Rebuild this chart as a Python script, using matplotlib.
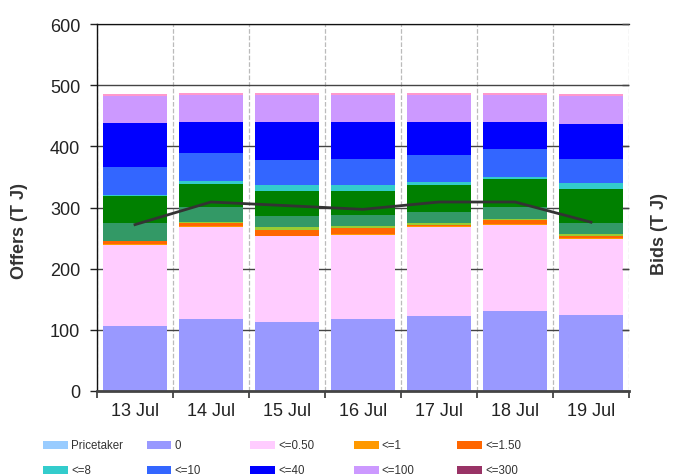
import matplotlib
matplotlib.use('Agg')
import matplotlib.pyplot as plt
import numpy as np
from matplotlib.patches import Rectangle

plt.rcParams['font.family'] = ['Liberation Sans', 'DejaVu Sans']

dates = ['13 Jul', '14 Jul', '15 Jul', '16 Jul', '17 Jul', '18 Jul', '19 Jul']

# Offer bands (TJ), stacked bottom to top
pricetaker = [0, 0, 0, 0, 0, 0, 0]
band_0 = [106, 118, 112, 118, 122, 130, 124]
band_050 = [133, 150, 141, 137, 146, 142, 125]
band_1 = [1, 1, 1, 1, 1, 1, 1]
band_150 = [6, 5, 10, 11, 3, 6, 3]
band_2 = [0, 3, 4, 2, 2, 2, 3]
band_3 = [28, 24, 18, 19, 18, 20, 18]
band_5 = [45, 37, 41, 39, 44, 45, 56]
band_8 = [2, 5, 9, 9, 5, 4, 10]
band_10 = [45, 46, 41, 44, 45, 45, 40]
band_40 = [72, 50, 62, 59, 53, 44, 56]
band_100 = [45, 45, 45, 45, 45, 45, 46]
band_300 = [0, 0, 0, 0, 0, 0, 0]
band_top = [2, 3, 3, 3, 3, 3, 3]

# Bids (TJ)
bids = [272, 309, 303, 297, 309, 309, 276]

series = [
    ('Pricetaker', pricetaker, '#99ccff', True),
    ('0', band_0, '#9999ff', True),
    ('<=0.50', band_050, '#ffccff', True),
    ('<=1', band_1, '#ff9900', True),
    ('<=1.50', band_150, '#ff6600', True),
    ('<=2', band_2, '#99cc33', False),
    ('<=3', band_3, '#339966', False),
    ('<=5', band_5, '#008000', False),
    ('<=8', band_8, '#33cccc', True),
    ('<=10', band_10, '#3366ff', True),
    ('<=40', band_40, '#0000ff', True),
    ('<=100', band_100, '#cc99ff', True),
    ('<=300', band_300, '#993366', True),
    ('>300', band_top, '#ff99cc', False),
]

W, H = 674, 477
fig = plt.figure(figsize=(W / 100, H / 100), dpi=100)
ax = fig.add_axes([97 / W, 1 - 392 / H, (629 - 97) / W, (392 - 25) / H])

x = np.arange(len(dates))
bottom = np.zeros(len(dates))
for name, vals, col, _ in series:
    v = np.array(vals, dtype=float)
    ax.bar(x, v, width=0.84, bottom=bottom, color=col, linewidth=0, zorder=2)
    bottom += v

ax.set_xlim(-0.5, len(dates) - 0.5)
ax.set_ylim(0, 600)
ax.set_yticks(np.arange(0, 601, 100))
ax.set_xticks(x)
ax.set_xticklabels(dates)
ax.set_xticks(np.arange(-0.5, len(dates), 1.0), minor=True)

ax.tick_params(axis='x', which='major', length=0, pad=8, labelsize=13, labelcolor='#222222')
ax.tick_params(axis='x', which='minor', length=5, width=1.2, color='#333333', direction='out')
ax.tick_params(axis='y', which='major', length=5, width=1, color='#222222', direction='out',
               pad=7, labelsize=13, labelcolor='#222222')

ax.set_axisbelow(True)
ax.yaxis.grid(True, color='#444444', linewidth=1, zorder=0)
ax.xaxis.grid(True, which='minor', color='#bbbbbb', linestyle='--', linewidth=0.9, zorder=0)
ax.xaxis.grid(False, which='major')

ax.spines['right'].set_visible(False)
ax.spines['top'].set_color('#111111')
ax.spines['top'].set_linewidth(0.9)
ax.spines['left'].set_color('#111111')
ax.spines['left'].set_linewidth(1)
ax.spines['bottom'].set_color('#444444')
ax.spines['bottom'].set_linewidth(2)

ax.set_ylabel('Offers (T J)', fontsize=13, fontweight='bold', color='#333333')
ax.yaxis.set_label_coords(-0.13, 0.44)

ax2 = ax.twinx()
ax2.set_ylim(0, 600)
ax2.set_yticks(np.arange(0, 601, 100))
ax2.tick_params(axis='y', direction='in', length=5, width=1, color='#444444', labelright=False)
for s in ax2.spines.values():
    s.set_visible(False)
ax2.plot(x, bids, color='#333333', linewidth=2, zorder=3)
ax2.set_ylabel('Bids (T J)', fontsize=13, fontweight='bold', color='#333333')
ax2.yaxis.set_label_coords(1.041, 0.43)

# Legend (only labelled bands)
leg_items = [(n, c) for n, _, c, show in series if show]
for i, (name, col) in enumerate(leg_items):
    r, cidx = divmod(i, 5)
    px = 43 + cidx * 103.5
    py = 446 + r * 25
    fig.add_artist(Rectangle((px / W, 1 - (py + 4) / H), 25 / W, 8 / H,
                             transform=fig.transFigure, color=col, linewidth=0))
    fig.text((px + 28) / W, 1 - py / H, name, fontsize=8.3, color='#333333',
             va='center', ha='left')

fig.savefig('out.png', dpi=100)
